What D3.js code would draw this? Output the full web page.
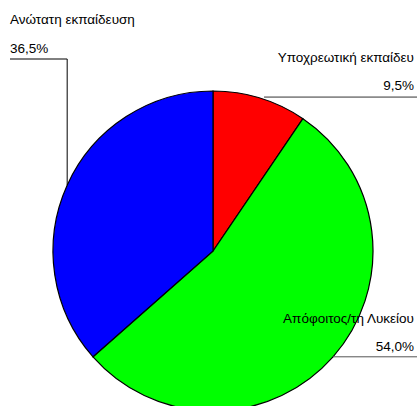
<!DOCTYPE html>
<html>
<head>
<meta charset="utf-8">
<script src="https://cdn.jsdelivr.net/npm/d3@7"></script>
<style>
  body { margin: 0; background: #fff; }
  text { font-family: "Liberation Sans", Arial, sans-serif; font-size: 13.5px; fill: #000; }
</style>
</head>
<body>
<div id="chart"></div>
<script>
const categories = ["Υποχρεωτική εκπαίδευ", "Απόφοιτος/τη Λυκείου", "Ανώτατη εκπαίδευση"];
const values = [9.5, 54.0, 36.5];
const valueLabels = ["9,5%", "54,0%", "36,5%"];
const colors = ["#ff0000", "#00ff00", "#0000ff"];

const width = 418, height = 406;
const cx = 213, cy = 251, radius = 160;

const svg = d3.select("#chart").append("svg")
    .attr("width", width).attr("height", height);

const pie = d3.pie().sort(null).value(d => d)(values);
const arc = d3.arc().innerRadius(0).outerRadius(radius);

const g = svg.append("g").attr("transform", `translate(${cx},${cy})`);

g.selectAll("path.slice")
  .data(pie)
  .enter().append("path")
  .attr("class", "slice")
  .attr("d", arc)
  .attr("fill", (d, i) => colors[i])
  .attr("stroke", "#000")
  .attr("stroke-width", 1.2);

// point on the rim at the middle of each slice
function rim(d) {
  const a = (d.startAngle + d.endAngle) / 2;
  return [cx + radius * Math.sin(a), cy - radius * Math.cos(a)];
}

// red slice: horizontal leader to the right
let p = rim(pie[0]);
svg.append("polyline")
  .attr("points", [[p[0] + 4, p[1] - 1], [417, p[1] - 1]].join(" "))
  .attr("fill", "none").attr("stroke", "#333").attr("stroke-width", 1);
svg.append("text").attr("x", 414).attr("y", 62).attr("text-anchor", "end").text(categories[0]);
svg.append("text").attr("x", 414).attr("y", 90).attr("text-anchor", "end").text(valueLabels[0]);

// green slice
p = rim(pie[1]);
svg.append("polyline")
  .attr("points", [[p[0], p[1]], [417, p[1]]].join(" "))
  .attr("fill", "none").attr("stroke", "#555").attr("stroke-width", 1);
svg.append("text").attr("x", 414).attr("y", 323).attr("text-anchor", "end").text(categories[1]);
svg.append("text").attr("x", 414).attr("y", 351).attr("text-anchor", "end").text(valueLabels[1]);

// blue slice: up then left
p = rim(pie[2]);
svg.append("polyline")
  .attr("points", [[p[0], p[1]], [p[0], 59], [10, 59]].join(" "))
  .attr("fill", "none").attr("stroke", "#000").attr("stroke-width", 1);
svg.append("text").attr("x", 10).attr("y", 24).text(categories[2]);
svg.append("text").attr("x", 10).attr("y", 53).text(valueLabels[2]);
</script>
</body>
</html>
